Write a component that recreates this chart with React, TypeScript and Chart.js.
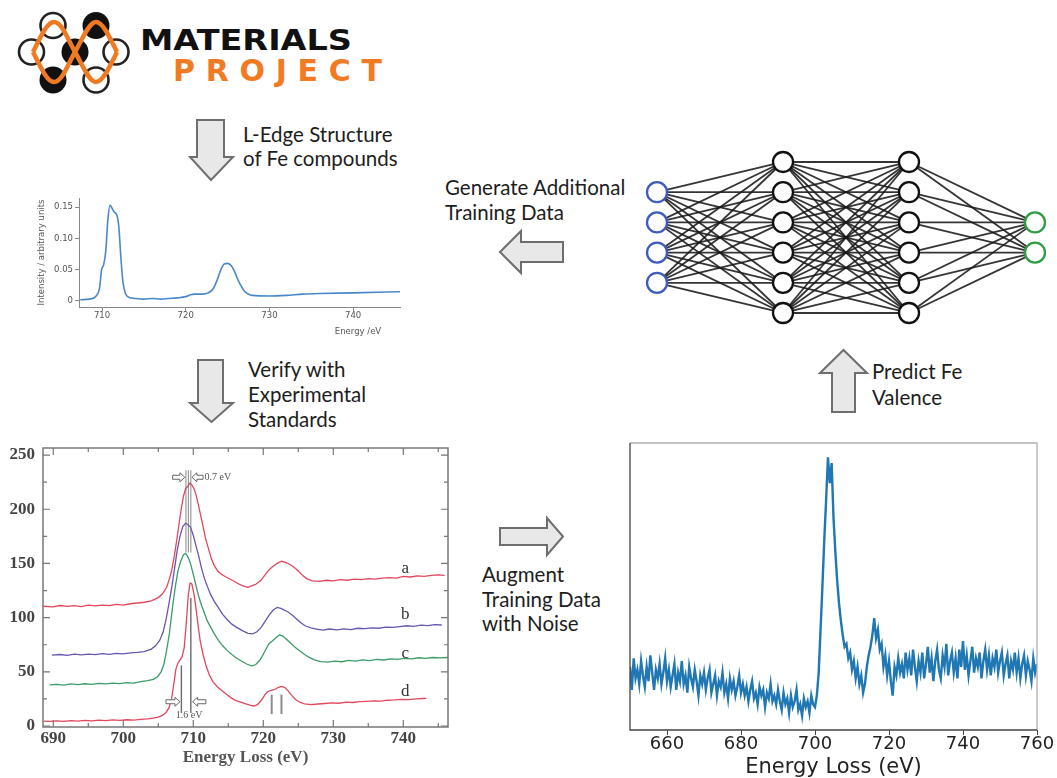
import React, { useEffect, useRef } from "react";
import { Chart, registerables } from "chart.js";

Chart.register(...registerables);

// ---------------- DATA ----------------
// Materials Project computed Fe L-edge spectrum
const MP_ENERGY = [707.4, 708.5, 709.3, 709.7, 709.95, 710.2, 710.45, 710.7, 710.95, 711.2, 711.45, 711.75, 712.0, 712.25, 712.5, 712.8, 713.2, 714, 715, 716, 717, 718, 719, 720, 720.6, 721, 722, 722.7, 723.3, 723.8, 724.2, 724.6, 725, 725.4, 725.8, 726.3, 727, 728, 730, 732, 734, 736, 740, 746];
const MP_INTENSITY = [0.002, 0.003, 0.008, 0.02, 0.05, 0.058, 0.08, 0.13, 0.153, 0.148, 0.142, 0.138, 0.12, 0.07, 0.03, 0.012, 0.006, 0.004, 0.003, 0.004, 0.003, 0.004, 0.005, 0.007, 0.01, 0.011, 0.011, 0.013, 0.02, 0.035, 0.05, 0.059, 0.06, 0.057, 0.048, 0.032, 0.016, 0.009, 0.008, 0.009, 0.011, 0.012, 0.013, 0.015];
const MP_X_TICKS = [710, 720, 730, 740];
const MP_Y_TICKS = [0, 0.05, 0.1, 0.15];

// Experimental standards (a, b, c, d)
const EXP_A_E = [688.6, 690, 691, 692, 693, 694, 695, 696, 697, 698, 699, 700, 701, 702, 703, 704, 705, 705.6, 706.2, 706.6, 706.9, 707.3, 707.6, 708, 708.3, 708.6, 708.9, 709.2, 709.5, 709.8, 710.1, 710.4, 710.7, 711, 711.4, 711.8, 712.2, 712.6, 713, 713.5, 714, 714.8, 715.7, 716.5, 717.2, 717.8, 718.4, 719, 719.6, 720.2, 720.8, 721.4, 722, 722.6, 723.2, 723.8, 724.4, 725, 725.6, 726.2, 727, 728, 729, 730, 731, 732, 733, 734, 735, 736, 737, 738, 739, 740, 741, 742, 743, 744, 745, 745.9];
const EXP_A_I = [110.5, 110, 111.2, 110.4, 111, 110.2, 111.5, 110.8, 111.6, 111, 112.3, 111.5, 112.8, 113.5, 114.2, 115.5, 118.5, 122, 128, 136, 143, 157, 170, 188, 201, 212, 219, 221, 224, 222.5, 219, 213, 205, 196, 184, 172, 163, 154, 148, 143, 140, 137, 134, 131, 129, 128, 129.5, 131, 134, 139, 144, 147.5, 150, 152, 151, 149, 146.5, 143, 139, 136, 134, 133.5, 134.5, 134, 135, 134.5, 135.5, 135, 136, 135.5, 136.5, 137, 136.5, 138, 137.5, 138.5, 138, 139, 139.5, 139];
const EXP_B_E = [689.8, 691, 692, 693, 694, 695, 696, 697, 698, 699, 700, 701, 702, 703, 704, 704.6, 705.2, 705.7, 706.1, 706.5, 706.9, 707.3, 707.7, 708.1, 708.5, 708.9, 709.2, 709.6, 710, 710.4, 710.8, 711.2, 711.6, 712, 712.5, 713, 713.6, 714.2, 714.8, 715.5, 716.2, 717, 717.8, 718.5, 719.1, 719.7, 720.3, 720.9, 721.5, 722, 722.5, 723, 723.6, 724.2, 724.8, 725.4, 726, 726.8, 727.6, 728.5, 729.5, 730.5, 731.5, 732.5, 733.5, 734.5, 735.5, 736.5, 737.5, 738.5, 739.5, 740.5, 741.5, 742.5, 743.5, 744.5, 745.5];
const EXP_B_I = [65.5, 66, 65.2, 66.3, 65.6, 66.4, 65.8, 66.8, 66.1, 67, 66.5, 67.4, 67.9, 68.6, 71, 74, 79, 87, 98, 112, 127, 144, 162, 175, 184, 187, 186, 183.5, 176, 166, 156, 145, 136, 129, 121, 115, 109, 103, 98.5, 94, 91, 88, 85.5, 85, 87, 91, 97, 103, 107.5, 109.5, 108.5, 107, 105, 102, 98.5, 95, 92.5, 90.5, 89.5, 88.5, 89.5, 88.8, 89.6, 89, 90.2, 89.8, 90.6, 90.2, 91.3, 91, 91.8, 92.5, 92, 93, 92.7, 93.5, 93.2];
const EXP_C_E = [689.5, 690.5, 691.5, 692.5, 693.5, 694.5, 695.5, 696.5, 697.5, 698.5, 699.5, 700.5, 701.5, 702.5, 703.5, 704.3, 704.9, 705.4, 705.8, 706.2, 706.6, 707, 707.4, 707.8, 708.2, 708.6, 708.9, 709.2, 709.6, 710, 710.4, 710.8, 711.2, 711.6, 712, 712.5, 713, 713.6, 714.2, 714.8, 715.5, 716.2, 717, 717.7, 718.3, 718.9, 719.4, 719.9, 720.4, 720.8, 721.3, 721.8, 722.3, 722.8, 723.3, 723.9, 724.5, 725.1, 725.8, 726.5, 727.3, 728.2, 729.2, 730.2, 731.2, 732.2, 733.2, 734.2, 735.2, 736.2, 737.2, 738.2, 739.2, 740.2, 741.2, 742.2, 743.2, 744.2, 745.2, 746.4];
const EXP_C_I = [38, 38.5, 37.8, 38.8, 38.2, 39, 38.5, 39.4, 38.8, 39.6, 39.1, 40, 39.6, 41, 41.8, 43, 45.5, 50, 57, 70, 86, 108, 127, 143, 152, 158, 159, 156.5, 150, 140, 129, 119, 111, 104, 97, 91, 85, 79, 74, 70, 66, 62.5, 59.5, 57, 55.5, 56.5, 60, 65, 71, 76, 78.5, 81.5, 84, 83, 80, 76.5, 73, 70, 66.5, 63.5, 61, 59.5, 59, 59.8, 59.3, 60.5, 59.8, 61, 60.4, 61.5, 60.9, 62, 61.5, 62.5, 62, 63, 62.4, 63.2, 62.8, 63.2];
const EXP_D_E = [688.6, 689.5, 690.5, 691.5, 692.5, 693.5, 694.5, 695.5, 696.5, 697.5, 698.5, 699.5, 700.5, 701.5, 702.5, 703.5, 704.3, 705, 705.6, 706.1, 706.5, 706.9, 707.2, 707.5, 707.8, 708.1, 708.4, 708.7, 709, 709.3, 709.55, 709.8, 710.1, 710.4, 710.7, 711, 711.4, 711.8, 712.3, 712.8, 713.4, 714, 714.7, 715.4, 716.1, 716.8, 717.5, 718.2, 718.7, 719.2, 719.7, 720.2, 720.6, 721.1, 721.6, 722.1, 722.6, 723.1, 723.6, 724.1, 724.6, 725.2, 725.9, 726.8, 727.8, 728.8, 729.8, 730.8, 731.8, 732.8, 733.8, 734.8, 735.8, 736.8, 737.8, 738.8, 739.8, 740.8, 741.8, 742.8, 743.3];
const EXP_D_I = [4.5, 4.2, 4.8, 4.3, 5, 4.5, 5.2, 4.7, 5.4, 4.9, 5.6, 5.2, 5.8, 5.5, 6.2, 6.6, 7.2, 8.2, 9.8, 12.5, 16.5, 25, 38, 52, 58, 61, 64, 72, 95, 122, 132, 131, 122, 108, 92, 78, 66, 56, 47, 41, 36.5, 33, 29.5, 26, 23.5, 22, 20.5, 19, 18.5, 20, 23.5, 28.5, 31.5, 33, 33.5, 35.5, 36.5, 35.5, 32, 28, 24.5, 22, 20.5, 19.8, 20.3, 20.8, 21.3, 21, 22, 21.7, 22.5, 22.8, 23.2, 22.9, 23.8, 24.1, 24.6, 24.3, 25.1, 25.4, 25.6];
const EXP_NAMES = ["a", "b", "c", "d"];
const EXP_COLORS = ["#e2475c", "#6a55b3", "#3b9c68", "#e2475c"];
const EXP_NAME_E = 740.3;
const EXP_NAME_I = [145.5, 103, 67, 32];
const EXP_X_TICKS = [690, 700, 710, 720, 730, 740];
const EXP_X_MINOR = [695, 705, 715, 725, 735, 745];
const EXP_Y_TICKS = [0, 50, 100, 150, 200, 250];
const EXP_Y_MINOR = [25, 75, 125, 175, 225];
// annotation marks (energy / intensity values)
const EXP_TOP_MARK_E = [708.95, 709.3, 709.65];
const EXP_TOP_MARK_I = [160, 236];
const EXP_TOP_ARROW_E = [[707.05, 708.8], [711.4, 709.8]];
const EXP_TOP_ARROW_I = 229.5;
const EXP_TOP_TEXT = "0.7 eV";
const EXP_TOP_TEXT_E = 711.6;
const EXP_BOT_MARK_E = [708.3, 709.65];
const EXP_BOT_MARK_TOP = [56, 118];
const EXP_BOT_MARK_BASE = 12;
const EXP_BOT_ARROW_E = [[706.1, 708.1], [711.8, 709.9]];
const EXP_BOT_ARROW_I = 22.4;
const EXP_BOT_TEXT = "1.6 eV";
const EXP_BOT_TEXT_POS = [709.4, 9.5];
const EXP_L3_MARK_E = [721.2, 722.6];
const EXP_L3_MARK_I = [11, 29];

// Augmented (noisy) spectrum, 0.5 eV grid from 650 eV
const AUG_START = 650;
const AUG_STEP = 0.5;
const AUG_COUNTS = [
  22, 14, 25, 18, 21, 16, 24, 19, 15, 22, 17, 26, 20, 14, 21, 18, 23, 16, 20, 25, 17,
  21, 15, 19, 23, 14, 20, 17, 24, 16, 19, 13, 22, 18, 15, 21, 17, 12, 19, 16, 20,
  14, 18, 21, 13, 16, 19, 12, 17, 15, 20, 13, 16, 11, 18, 14, 17, 12, 15, 19, 13,
  16, 12, 15, 10, 14, 17, 11, 13, 9, 15, 12, 14, 8, 13, 11, 16, 10, 12, 9, 14,
  10, 7, 13, 9, 11, 6, 12, 8, 10, 14, 7, 9, 5, 11, 8, 10, 6, 12, 9, 8,
  12, 20, 35, 50, 66, 80, 95, 86, 93, 74, 62, 52, 44, 38, 33, 29, 30, 25, 27, 21,
  24, 18, 22, 16, 19, 13, 16, 22, 26, 29, 33, 39, 32, 35, 28, 30, 22, 26, 19, 24,
  17, 12, 22, 19, 25, 20, 23, 18, 27, 21,
  25, 19, 28, 22, 17, 24, 20, 27, 18, 23, 29, 20, 25, 17, 24, 28, 21, 18, 26, 22,
  30, 19, 24, 27, 20, 25, 18, 28, 22, 31, 21, 26, 19, 24, 29, 20, 25, 22, 27, 18,
  24, 28, 21, 26, 19, 25, 22, 28, 20, 24, 27, 19, 23, 26, 18, 24, 21, 27, 20, 25,
  18, 23, 26, 19, 24, 21, 17, 25, 20, 23,
];
const AUG_X_TICKS = [660, 680, 700, 720, 740, 760];

// Neural network: nodes per layer
const NN_LAYERS = [4, 6, 6, 2];
const NN_COLORS = ["#3e5cbf", "#111111", "#111111", "#2f9d45"];

// Flow captions
const CAPTION_MP = ["L-Edge Structure", "of Fe compounds"];
const CAPTION_GEN = ["Generate Additional", "Training Data"];
const CAPTION_VERIFY = ["Verify with", "Experimental", "Standards"];
const CAPTION_PREDICT = ["Predict Fe", "Valence"];
const CAPTION_AUGMENT = ["Augment", "Training Data", "with Noise"];

// ---------------- helpers ----------------
const pts = (xs: number[], ys: number[]) => xs.map((x, i) => ({ x, y: ys[i] }));

function ChartCanvas(props: { left: number; top: number; width: number; height: number; make: () => any }) {
  const ref = useRef<HTMLCanvasElement | null>(null);
  useEffect(() => {
    const chart = new Chart(ref.current as HTMLCanvasElement, props.make());
    return () => chart.destroy();
  }, []);
  const { left, top, width, height } = props;
  return (
    <canvas
      ref={ref}
      width={width}
      height={height}
      style={{ position: "absolute", left, top, width, height }}
    />
  );
}

const baseOpts = {
  animation: false,
  responsive: false,
  devicePixelRatio: 1,
  events: [],
  plugins: { legend: { display: false }, tooltip: { enabled: false } },
};

const noScalePad = (s: any) => {
  s.paddingTop = 0;
  s.paddingBottom = 0;
  s.paddingLeft = 0;
  s.paddingRight = 0;
};

// ---------------- chart configs ----------------
function makeMP() {
  const titlePlugin = {
    id: "mpXTitle",
    afterDraw(chart: any) {
      const { ctx, chartArea } = chart;
      ctx.save();
      ctx.font = "8.5px 'DejaVu Sans'";
      ctx.fillStyle = "#555";
      ctx.textAlign = "center";
      ctx.textBaseline = "middle";
      ctx.fillText("Energy /eV", chartArea.right - 42, chartArea.bottom + 25);
      ctx.restore();
    },
  };
  return {
    type: "scatter",
    data: {
      datasets: [
        {
          data: pts(MP_ENERGY, MP_INTENSITY),
          showLine: true,
          borderColor: "#4b88c9",
          borderWidth: 1.6,
          pointRadius: 0,
          cubicInterpolationMode: "monotone",
        },
      ],
    },
    options: {
      ...baseOpts,
      layout: { autoPadding: false, padding: { top: 8, right: 10, left: 0, bottom: 0 } },
      scales: {
        x: {
          type: "linear",
          min: 707.25,
          max: 745.6,
          afterBuildTicks: (s: any) => { s.ticks = MP_X_TICKS.map((v) => ({ value: v })); },
          afterFit: (s: any) => { s.height = 33; noScalePad(s); },
          grid: { drawOnChartArea: false, drawTicks: true, tickLength: 4, color: "#888" },
          border: { display: true, color: "#888", width: 1 },
          ticks: { font: { family: "DejaVu Sans", size: 8.5 }, color: "#555", padding: 0, maxRotation: 0 },
        },
        y: {
          min: -0.0096,
          max: 0.1644,
          afterBuildTicks: (s: any) => { s.ticks = MP_Y_TICKS.map((v) => ({ value: v })); },
          afterFit: (s: any) => { s.width = 59; noScalePad(s); },
          grid: { drawOnChartArea: false, drawTicks: true, tickLength: 4, color: "#888" },
          border: { display: true, color: "#888", width: 1 },
          ticks: { font: { family: "DejaVu Sans", size: 8.5 }, color: "#555", padding: 2 },
          title: {
            display: true,
            text: "Intensity / arbitrary units",
            font: { family: "DejaVu Sans", size: 8.5 },
            color: "#555",
            padding: { top: 17, bottom: 0 },
          },
        },
      },
    },
    plugins: [titlePlugin],
  };
}

function drawBlockArrow(ctx: any, x1: number, x2: number, y: number) {
  const dir = x2 > x1 ? 1 : -1;
  const hl = 5;
  ctx.beginPath();
  ctx.moveTo(x1, y - 2);
  ctx.lineTo(x2 - dir * hl, y - 2);
  ctx.lineTo(x2 - dir * hl, y - 4.5);
  ctx.lineTo(x2, y);
  ctx.lineTo(x2 - dir * hl, y + 4.5);
  ctx.lineTo(x2 - dir * hl, y + 2);
  ctx.lineTo(x1, y + 2);
  ctx.closePath();
  ctx.fillStyle = "#fff";
  ctx.fill();
  ctx.strokeStyle = "#666";
  ctx.lineWidth = 1;
  ctx.stroke();
}

function makeExp() {
  const decor = {
    id: "expDecor",
    afterDatasetsDraw(chart: any) {
      const { ctx, chartArea: a, scales } = chart;
      const X = (v: number) => scales.x.getPixelForValue(v);
      const Y = (v: number) => scales.y.getPixelForValue(v);
      ctx.save();
      const vline = (e: number, i0: number, i1: number) => {
        ctx.beginPath();
        ctx.moveTo(X(e), Y(i0));
        ctx.lineTo(X(e), Y(i1));
        ctx.stroke();
      };
      ctx.strokeStyle = "rgba(110,110,110,0.75)";
      ctx.lineWidth = 1.1;
      EXP_TOP_MARK_E.forEach((e) => vline(e, EXP_TOP_MARK_I[0], EXP_TOP_MARK_I[1]));
      ctx.strokeStyle = "#6a6a6a";
      ctx.lineWidth = 1.4;
      EXP_BOT_MARK_E.forEach((e, i) => vline(e, EXP_BOT_MARK_BASE, EXP_BOT_MARK_TOP[i]));
      ctx.strokeStyle = "#8c8c8c";
      ctx.lineWidth = 2;
      EXP_L3_MARK_E.forEach((e) => vline(e, EXP_L3_MARK_I[0], EXP_L3_MARK_I[1]));
      EXP_TOP_ARROW_E.forEach(([e1, e2]) => drawBlockArrow(ctx, X(e1), X(e2), Y(EXP_TOP_ARROW_I)));
      EXP_BOT_ARROW_E.forEach(([e1, e2]) => drawBlockArrow(ctx, X(e1), X(e2), Y(EXP_BOT_ARROW_I)));
      ctx.fillStyle = "#555";
      ctx.font = "10px 'Liberation Serif'";
      ctx.textBaseline = "middle";
      ctx.textAlign = "left";
      ctx.fillText(EXP_TOP_TEXT, X(EXP_TOP_TEXT_E), Y(EXP_TOP_ARROW_I));
      ctx.textAlign = "center";
      ctx.fillText(EXP_BOT_TEXT, X(EXP_BOT_TEXT_POS[0]), Y(EXP_BOT_TEXT_POS[1]));
      // curve names
      ctx.font = "17px 'Liberation Serif'";
      ctx.fillStyle = "#333";
      EXP_NAMES.forEach((n, i) => ctx.fillText(n, X(EXP_NAME_E), Y(EXP_NAME_I[i])));
      // frame
      ctx.strokeStyle = "#777";
      ctx.lineWidth = 1.5;
      ctx.strokeRect(a.left, a.top, a.right - a.left, a.bottom - a.top);
      // inward ticks
      ctx.lineWidth = 1.2;
      const xt = (v: number, len: number) => {
        const px = X(v);
        ctx.beginPath();
        ctx.moveTo(px, a.bottom); ctx.lineTo(px, a.bottom - len);
        ctx.moveTo(px, a.top); ctx.lineTo(px, a.top + len);
        ctx.stroke();
      };
      const yt = (v: number, len: number) => {
        const py = Y(v);
        ctx.beginPath();
        ctx.moveTo(a.left, py); ctx.lineTo(a.left + len, py);
        ctx.moveTo(a.right, py); ctx.lineTo(a.right - len, py);
        ctx.stroke();
      };
      EXP_X_TICKS.forEach((v) => xt(v, 7));
      EXP_X_MINOR.forEach((v) => xt(v, 4));
      EXP_Y_TICKS.forEach((v) => yt(v, 7));
      EXP_Y_MINOR.forEach((v) => yt(v, 4));
      ctx.restore();
    },
  };
  const series = [
    pts(EXP_A_E, EXP_A_I),
    pts(EXP_B_E, EXP_B_I),
    pts(EXP_C_E, EXP_C_I),
    pts(EXP_D_E, EXP_D_I),
  ];
  const tickFont = { family: "Liberation Serif", size: 17, weight: "bold" };
  return {
    type: "scatter",
    data: {
      datasets: series.map((d, i) => ({
        label: EXP_NAMES[i],
        data: d,
        showLine: true,
        borderColor: EXP_COLORS[i],
        borderWidth: 1.3,
        pointRadius: 0,
        tension: 0,
      })),
    },
    options: {
      ...baseOpts,
      layout: { autoPadding: false, padding: { top: 8, right: 12, left: 0, bottom: 0 } },
      scales: {
        x: {
          type: "linear",
          min: 688.53,
          max: 746.39,
          afterBuildTicks: (s: any) => { s.ticks = EXP_X_TICKS.map((v) => ({ value: v })); },
          afterFit: (s: any) => { s.height = 51; noScalePad(s); },
          grid: { display: false, drawTicks: false },
          border: { display: false },
          ticks: { font: tickFont, color: "#444", padding: 1, maxRotation: 0 },
          title: {
            display: true,
            text: "Energy Loss (eV)",
            font: { family: "Liberation Serif", size: 17, weight: "bold" },
            color: "#555",
            padding: { top: 0, bottom: 10 },
          },
        },
        y: {
          min: -0.9,
          max: 256.5,
          afterBuildTicks: (s: any) => { s.ticks = EXP_Y_TICKS.map((v) => ({ value: v })); },
          afterFit: (s: any) => { s.width = 43; noScalePad(s); },
          grid: { display: false, drawTicks: false },
          border: { display: false },
          ticks: { font: tickFont, color: "#444", padding: 8 },
        },
      },
    },
    plugins: [decor],
  };
}

function makeAug() {
  const frame = {
    id: "augFrame",
    afterDraw(chart: any) {
      const { ctx, chartArea: a } = chart;
      ctx.save();
      ctx.lineWidth = 1.3;
      ctx.strokeStyle = "#b0b0b0";
      ctx.beginPath();
      ctx.moveTo(a.left, a.top); ctx.lineTo(a.right, a.top); ctx.lineTo(a.right, a.bottom);
      ctx.stroke();
      ctx.strokeStyle = "#444";
      ctx.beginPath();
      ctx.moveTo(a.left, a.top); ctx.lineTo(a.left, a.bottom); ctx.lineTo(a.right, a.bottom);
      ctx.stroke();
      ctx.restore();
    },
  };
  const data = AUG_COUNTS.map((y, i) => ({ x: AUG_START + i * AUG_STEP, y }));
  return {
    type: "scatter",
    data: {
      datasets: [
        {
          data,
          showLine: true,
          borderColor: "#1f77b4",
          borderWidth: 2.4,
          pointRadius: 0,
          tension: 0,
        },
      ],
    },
    options: {
      ...baseOpts,
      layout: { autoPadding: false, padding: { top: 8, right: 20, left: 30, bottom: 0 } },
      scales: {
        x: {
          type: "linear",
          min: 650,
          max: 760,
          afterBuildTicks: (s: any) => { s.ticks = AUG_X_TICKS.map((v) => ({ value: v })); },
          afterFit: (s: any) => { s.height = 48; noScalePad(s); },
          grid: { display: true, drawOnChartArea: false, drawTicks: true, tickLength: 5, color: "#444" },
          border: { display: false },
          ticks: { font: { family: "DejaVu Sans", size: 18, lineHeight: 1 }, color: "#222", padding: 0, maxRotation: 0 },
          title: {
            display: true,
            text: "Energy Loss (eV)",
            font: { family: "DejaVu Sans", size: 21, lineHeight: 1 },
            color: "#222",
            padding: { top: 0, bottom: 0 },
          },
        },
        y: { display: false, min: 0, max: 100 },
      },
    },
    plugins: [frame],
  };
}

function makeNet() {
  const nodes: { x: number; y: number }[] = [];
  const colors: string[] = [];
  const layerNodes: { x: number; y: number }[][] = [];
  NN_LAYERS.forEach((n, li) => {
    const arr: { x: number; y: number }[] = [];
    for (let j = 0; j < n; j++) {
      const p = { x: li, y: j - (n - 1) / 2 };
      arr.push(p);
      nodes.push(p);
      colors.push(NN_COLORS[li]);
    }
    layerNodes.push(arr);
  });
  const edges: any[] = [];
  for (let li = 0; li < layerNodes.length - 1; li++) {
    layerNodes[li].forEach((p) => {
      layerNodes[li + 1].forEach((q) => {
        edges.push({
          data: [p, q],
          showLine: true,
          borderColor: "rgba(25,25,25,0.88)",
          borderWidth: 1.8,
          pointRadius: 0,
          order: 1,
        });
      });
    });
  }
  return {
    type: "scatter",
    data: {
      datasets: [
        {
          data: nodes,
          pointRadius: 10,
          pointBorderWidth: 2.3,
          pointBackgroundColor: "#ffffff",
          pointBorderColor: colors,
          order: 0,
        },
        ...edges,
      ],
    },
    options: {
      ...baseOpts,
      layout: { autoPadding: false, padding: 0 },
      scales: {
        x: { type: "linear", display: false, min: -0.2143, max: 3.1746 },
        y: { type: "linear", display: false, min: -3.228, max: 3.394, reverse: true },
      },
    },
  };
}

// ---------------- static drawing (logo, flow arrows, captions) ----------------
const ARROW_FILL = "#e8e8e8";
const ARROW_STROKE = "#6e6e6e";

function Caption({ x, y, lines, step = 24.5 }: { x: number; y: number; lines: string[]; step?: number }) {
  return (
    <text x={x} y={y} fontFamily="Lato" fontSize={20.5} fill="#1d1d1d">
      {lines.map((l, i) => (
        <tspan key={i} x={x} y={y + i * step}>
          {l}
        </tspan>
      ))}
    </text>
  );
}

function Overlay() {
  return (
    <svg
      width={1057}
      height={778}
      style={{ position: "absolute", left: 0, top: 0 }}
      xmlns="http://www.w3.org/2000/svg"
    >
      {/* logo icon */}
      <g>
        <circle cx={53} cy={25.5} r={12.5} fill="#fff" stroke="#222" strokeWidth={2.6} />
        <circle cx={96} cy={25.5} r={13.5} fill="#111" />
        <circle cx={31.5} cy={52} r={12.5} fill="#fff" stroke="#222" strokeWidth={2.6} />
        <circle cx={75} cy={52} r={13.5} fill="#111" />
        <circle cx={116} cy={52} r={12.5} fill="#fff" stroke="#222" strokeWidth={2.6} />
        <circle cx={53} cy={80} r={13.5} fill="#111" />
        <circle cx={96} cy={80} r={12.5} fill="#fff" stroke="#222" strokeWidth={2.6} />
        <path
          d="M33 52 C41 36 47 22 54 22 C62 22 68 40 75 52 C82 64 89 82 96 82 C103 82 110 66 117 52"
          fill="none"
          stroke="#f07a22"
          strokeWidth={4.5}
          strokeLinejoin="round"
        />
        <path
          d="M33 52 C41 68 47 82 54 82 C62 82 68 64 75 52 C82 40 89 22 96 22 C103 22 110 38 117 52"
          fill="none"
          stroke="#f07a22"
          strokeWidth={4.5}
          strokeLinejoin="round"
        />
      </g>
      <text
        x={140}
        y={50}
        fontFamily="DejaVu Sans"
        fontWeight="bold"
        fontSize={29}
        fill="#111"
        textLength={212}
        lengthAdjust="spacingAndGlyphs"
      >
        MATERIALS
      </text>
      <text
        x={173}
        y={80.5}
        fontFamily="DejaVu Sans"
        fontWeight="bold"
        fontSize={30}
        fill="#f27a22"
        textLength={209}
        lengthAdjust="spacing"
      >
        PROJECT
      </text>

      {/* flow arrows */}
      <g fill={ARROW_FILL} stroke={ARROW_STROKE} strokeWidth={2} strokeLinejoin="miter">
        <polygon points="197,120 224,120 224,157 233,157 211,180 190,157 197,157" />
        <polygon points="198,360 223,360 223,403 233,403 211.5,422 190,403 198,403" />
        <polygon points="563,242 563,262 521,262 521,273 500,252 521,231 521,242" />
        <polygon points="832,412 855,412 855,373 867,373 843.5,350 820,373 832,373" />
        <polygon points="500,528 547,528 547,518 563,536.5 547,555 547,545 500,545" />
      </g>

      <Caption x={243} y={142} lines={CAPTION_MP} step={23.5} />
      <Caption x={445} y={195} lines={CAPTION_GEN} step={25} />
      <Caption x={248} y={377} lines={CAPTION_VERIFY} step={25} />
      <Caption x={872} y={379} lines={CAPTION_PREDICT} step={26} />
      <Caption x={482} y={582} lines={CAPTION_AUGMENT} step={24.5} />
    </svg>
  );
}

export default function App() {
  return (
    <div
      style={{
        position: "absolute",
        left: 0,
        top: 0,
        width: 1057,
        height: 778,
        overflow: "hidden",
        background: "#ffffff",
      }}
    >
      <Overlay />
      <ChartCanvas left={20} top={190} width={390} height={150} make={makeMP} />
      <ChartCanvas left={630} top={140} width={427} height={200} make={makeNet} />
      <ChartCanvas left={0} top={440} width={460} height={338} make={makeExp} />
      <ChartCanvas left={600} top={435} width={457} height={343} make={makeAug} />
    </div>
  );
}
